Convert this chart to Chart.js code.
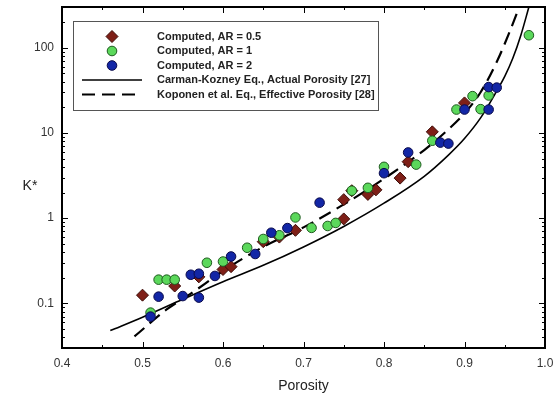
<!DOCTYPE html>
<html>
<head>
<meta charset="utf-8">
<script src="https://cdn.jsdelivr.net/npm/chart.js@4.4.0/dist/chart.umd.min.js"></script>
<style>
  html, body { margin: 0; padding: 0; background: #fff; }
</style>
</head>
<body>
<canvas id="chart" width="555" height="401"></canvas>
<script>
// Values (porosity vs K*)
const ar05Porosity = [0.50, 0.54, 0.57, 0.60, 0.61, 0.65, 0.67, 0.69, 0.75, 0.75, 0.76, 0.78, 0.79, 0.82, 0.83, 0.86, 0.90];
const ar05K = [0.125, 0.16, 0.205, 0.25, 0.27, 0.53, 0.60, 0.72, 0.98, 1.65, 2.1, 1.9, 2.15, 2.95, 4.6, 10.3, 22.5];

const ar1Porosity = [0.51, 0.52, 0.53, 0.54, 0.58, 0.60, 0.63, 0.65, 0.67, 0.69, 0.71, 0.73, 0.74, 0.76, 0.78, 0.80, 0.84, 0.86, 0.89, 0.91, 0.92, 0.93, 0.98];
const ar1K = [0.078, 0.19, 0.19, 0.19, 0.30, 0.31, 0.45, 0.57, 0.63, 1.02, 0.77, 0.81, 0.88, 2.1, 2.27, 4.0, 4.25, 8.1, 18.8, 27, 19, 27.5, 140];

const ar2Porosity = [0.51, 0.52, 0.55, 0.56, 0.57, 0.57, 0.59, 0.61, 0.64, 0.66, 0.68, 0.72, 0.80, 0.83, 0.87, 0.88, 0.90, 0.93, 0.93, 0.94];
const ar2K = [0.07, 0.12, 0.122, 0.217, 0.223, 0.117, 0.21, 0.355, 0.38, 0.675, 0.765, 1.52, 3.37, 5.9, 7.7, 7.5, 18.8, 34.5, 18.8, 34];

// Carman-Kozeny curve (solid)
const ckPorosity = [0.46, 0.50, 0.55, 0.60, 0.65, 0.70, 0.75, 0.80, 0.85, 0.88, 0.90, 0.92, 0.94, 0.95, 0.96, 0.97, 0.98];
const ckK = [0.048, 0.069, 0.112, 0.18, 0.28, 0.46, 0.80, 1.5, 3.1, 5.5, 8.6, 15, 31, 46, 75, 140, 300];

// Koponen et al. curve (dashed)
const kopPorosity = [0.49, 0.53, 0.56, 0.60, 0.65, 0.70, 0.75, 0.80, 0.85, 0.88, 0.90, 0.92, 0.94, 0.955, 0.968];
const kopK = [0.041, 0.085, 0.13, 0.24, 0.46, 0.78, 1.45, 2.9, 6.3, 11, 17, 30, 68, 145, 300];

const xTicks = [0.4, 0.5, 0.6, 0.7, 0.8, 0.9, 1.0];
const yTicks = [0.1, 1, 10, 100];

const legendLabels = [
    'Computed, AR = 0.5',
    'Computed, AR = 1',
    'Computed, AR = 2',
    'Carman-Kozney Eq., Actual Porosity [27]',
    'Koponen et al. Eq., Effective Porosity [28]'
];

const pts = (xs, ys) => xs.map((x, i) => ({ x: x, y: ys[i] }));

const red = { bg: '#7e1f17', border: '#3d0d08' };
const green = { bg: '#5bd85b', border: '#1f5a1f' };
const blue = { bg: '#1226a6', border: '#0a0a4a' };

// frame, inward ticks, legend box, K* label
const framePlugin = {
    id: 'frame',
    afterDatasetsDraw(chart) {
        const ctx = chart.ctx;
        const a = chart.chartArea;
        const xs = chart.scales.x, ys = chart.scales.y;
        ctx.save();
        ctx.strokeStyle = '#000';

        // ticks on x (bottom + top)
        ctx.lineWidth = 1;
        for (let v = 0.4; v <= 1.0001; v += 0.05) {
            const major = Math.abs(v * 10 - Math.round(v * 10)) < 0.01;
            const len = major ? 6 : 3;
            const px = Math.round(xs.getPixelForValue(v)) + 0.5;
            ctx.beginPath();
            ctx.moveTo(px, a.bottom); ctx.lineTo(px, a.bottom - len);
            ctx.moveTo(px, a.top); ctx.lineTo(px, a.top + len);
            ctx.stroke();
        }
        // ticks on y (left + right)
        [0.01, 0.1, 1, 10, 100].forEach(d => {
            for (let m = 1; m <= 9; m++) {
                const v = m * d;
                if (v < ys.min - 1e-9 || v > ys.max + 1e-9) continue;
                const len = m === 1 ? 6 : 3;
                const py = Math.round(ys.getPixelForValue(v)) + 0.5;
                ctx.beginPath();
                ctx.moveTo(a.left, py); ctx.lineTo(a.left + len, py);
                ctx.moveTo(a.right, py); ctx.lineTo(a.right - len, py);
                ctx.stroke();
            }
        });

        // frame
        ctx.lineWidth = 2;
        ctx.strokeRect(a.left, a.top, a.right - a.left, a.bottom - a.top);

        // legend
        const lx = 73.5, ly = 21.5, lw = 305, lh = 89;
        ctx.fillStyle = '#fff';
        ctx.fillRect(lx, ly, lw, lh);
        ctx.lineWidth = 1;
        ctx.strokeStyle = '#555';
        ctx.strokeRect(lx, ly, lw, lh);

        const rows = [36.5, 51, 65.5, 80, 94.5];
        const symX = 112;
        const marks = [
            { c: red, style: 'rectRot', r: 6 },
            { c: green, style: 'circle', r: 4.8 },
            { c: blue, style: 'circle', r: 4.8 }
        ];
        marks.forEach((m, i) => {
            ctx.fillStyle = m.c.bg;
            ctx.strokeStyle = m.c.border;
            ctx.lineWidth = 1;
            Chart.helpers.drawPoint(ctx, { pointStyle: m.style, radius: m.r, borderWidth: 1 }, symX, rows[i]);
        });
        ctx.strokeStyle = '#000';
        ctx.lineWidth = 1.6;
        ctx.beginPath(); ctx.moveTo(82, rows[3]); ctx.lineTo(142, rows[3]); ctx.stroke();
        ctx.lineWidth = 2.2;
        ctx.setLineDash([13, 7]);
        ctx.beginPath(); ctx.moveTo(82, rows[4]); ctx.lineTo(142, rows[4]); ctx.stroke();
        ctx.setLineDash([]);

        ctx.fillStyle = '#222';
        ctx.font = 'bold 11px Arial, "Liberation Sans", sans-serif';
        ctx.textBaseline = 'middle';
        ctx.textAlign = 'left';
        legendLabels.forEach((t, i) => ctx.fillText(t, 157, rows[i]));

        // y axis title, horizontal as in the figure
        ctx.font = '14px Arial, "Liberation Sans", sans-serif';
        ctx.fillStyle = '#222';
        ctx.textAlign = 'center';
        ctx.fillText('K*', 30, 186);
        ctx.restore();
    }
};

new Chart(document.getElementById('chart'), {
    type: 'scatter',
    data: {
        datasets: [
            {
                label: legendLabels[0],
                data: pts(ar05Porosity, ar05K),
                pointStyle: 'rectRot',
                pointRadius: 6,
                backgroundColor: red.bg,
                borderColor: red.border,
                borderWidth: 1,
                order: 3
            },
            {
                label: legendLabels[1],
                data: pts(ar1Porosity, ar1K),
                pointStyle: 'circle',
                pointRadius: 4.8,
                backgroundColor: green.bg,
                borderColor: green.border,
                borderWidth: 1,
                order: 2
            },
            {
                label: legendLabels[2],
                data: pts(ar2Porosity, ar2K),
                pointStyle: 'circle',
                pointRadius: 4.8,
                backgroundColor: blue.bg,
                borderColor: blue.border,
                borderWidth: 1,
                order: 1
            },
            {
                label: legendLabels[3],
                type: 'line',
                data: pts(ckPorosity, ckK),
                borderColor: '#000',
                borderWidth: 1.6,
                pointRadius: 0,
                fill: false,
                cubicInterpolationMode: 'monotone',
                order: 5
            },
            {
                label: legendLabels[4],
                type: 'line',
                data: pts(kopPorosity, kopK),
                borderColor: '#000',
                borderWidth: 2.2,
                borderDash: [13, 7],
                pointRadius: 0,
                fill: false,
                cubicInterpolationMode: 'monotone',
                order: 4
            }
        ]
    },
    options: {
        responsive: false,
        animation: false,
        devicePixelRatio: 1,
        layout: { padding: { left: 0, right: 10, top: 7, bottom: 0 } },
        plugins: {
            legend: { display: false },
            tooltip: { enabled: false }
        },
        scales: {
            x: {
                type: 'linear',
                min: 0.4,
                max: 1.0,
                afterBuildTicks: s => { s.ticks = xTicks.map(v => ({ value: v })); },
                afterFit: s => { s.height = 53; s.paddingLeft = 0; s.paddingRight = 0; },
                grid: { display: false, drawTicks: false },
                border: { display: false },
                ticks: {
                    callback: v => Number(v).toFixed(1),
                    color: '#333',
                    font: { family: 'Arial, "Liberation Sans", sans-serif', size: 12 },
                    padding: 8,
                    maxRotation: 0
                },
                title: {
                    display: true,
                    text: 'Porosity',
                    color: '#222',
                    font: { family: 'Arial, "Liberation Sans", sans-serif', size: 14 },
                    padding: { top: 4, bottom: 6 }
                }
            },
            y: {
                type: 'logarithmic',
                min: 0.03,
                max: 300,
                afterBuildTicks: s => { s.ticks = yTicks.map(v => ({ value: v })); },
                afterFit: s => { s.width = 62; s.paddingTop = 0; s.paddingBottom = 0; },
                grid: { display: false, drawTicks: false },
                border: { display: false },
                ticks: {
                    callback: v => String(v),
                    color: '#333',
                    font: { family: 'Arial, "Liberation Sans", sans-serif', size: 12 },
                    padding: 8
                }
            }
        }
    },
    plugins: [framePlugin]
});
</script>
</body>
</html>
